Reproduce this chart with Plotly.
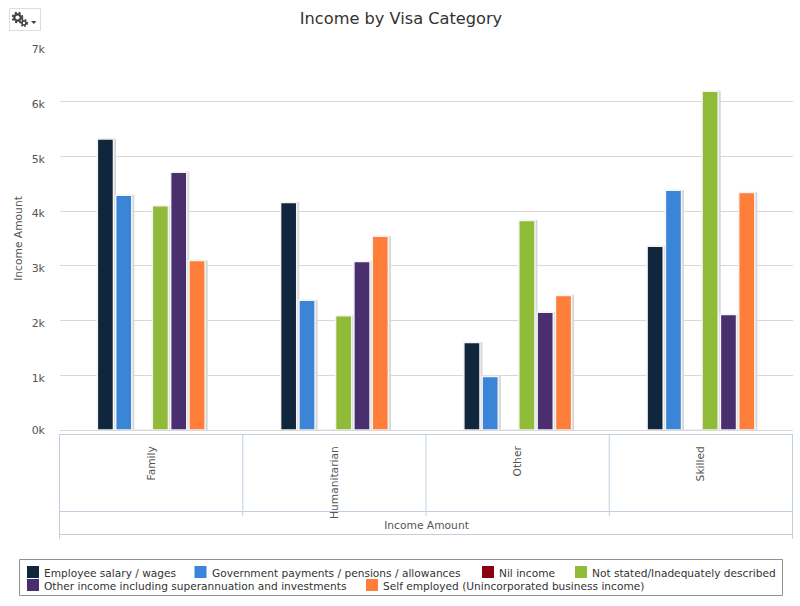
import plotly.graph_objects as go

categories = ["Family", "Humanitarian", "Other", "Skilled"]
series_names = ["Employee salary / wages", "Government payments / pensions / allowances", "Nil income",
                "Not stated/Inadequately described", "Other income including superannuation and investments",
                "Self employed (Unincorporated business income)"]
employee = [5320, 4160, 1600, 3360]
government = [4290, 2370, 980, 4380]
nil_income = [0, 0, 0, 0]
not_stated = [4100, 2090, 3830, 6190]
other_income = [4710, 3080, 2150, 2110]
self_employed = [3100, 3540, 2460, 4340]
series_values = [employee, government, nil_income, not_stated, other_income, self_employed]
colors = ["#10263c", "#3a85d8", "#8b0011", "#90bb38", "#4a2f6f", "#ff7e3a"]
y_ticks = [0, 1000, 2000, 3000, 4000, 5000, 6000, 7000]
y_labels = ["0k", "1k", "2k", "3k", "4k", "5k", "6k", "7k"]
legend_slots = [(27, 566), (194.5, 566), (482, 566), (575, 566), (27, 579), (366, 579)]

FONT = "DejaVu Sans"
TXT = "#555555"
LINE = "#c0d0e0"
ICON = "#444444"
W, H = 800, 606
L, R, T, B = 60, 793, 47, 430
pw, ph = R - L, B - T
px = lambda x: (x - L) / pw
py = lambda y: (B - y) / ph
cat_px = pw / 4
nudge = 0.4 / cat_px
shift = 2 / cat_px
label_shift = 2.5 * 7000 / ph
label_ticks = [max(v, label_shift) for v in y_ticks]

fig = go.Figure()
for name, vals in zip(series_names, series_values):
    fig.add_bar(x=categories, y=vals, name=name, showlegend=False, hoverinfo="skip",
                marker=dict(color="#d6d6d6", line=dict(color="#d6d6d6", width=1)), xaxis="x", yaxis="y")
for name, vals, c in zip(series_names, series_values, colors):
    fig.add_bar(x=categories, y=vals, name=name, showlegend=False, marker=dict(color=c, line=dict(color="#f4f4f4", width=1.5)),
                xaxis="x2", yaxis="y")
fig.add_scatter(x=[None], y=[None], xaxis="x2", yaxis="y2", showlegend=False, hoverinfo="skip")

shapes = []
def line(x0, y0, x1, y1):
    shapes.append(dict(type="line", xref="paper", yref="paper", x0=px(x0), y0=py(y0), x1=px(x1), y1=py(y1),
                       line=dict(color=LINE, width=1)))
def circle(cx, cy, r, width, dash="solid", fill="rgba(0,0,0,0)"):
    shapes.append(dict(type="circle", xref="paper", yref="paper", x0=px(cx - r), x1=px(cx + r), y0=py(cy - r), y1=py(cy + r),
                       line=dict(color=ICON, width=width, dash=dash), fillcolor=fill))

line(59.5, 434.5, 793, 434.5)
line(59.5, 511.5, 793, 511.5)
line(59.5, 534.5, 793, 534.5)
line(59.5, 434, 59.5, 539)
line(792.5, 434, 792.5, 539)
for xx in (242.75, 426, 609.25):
    line(xx, 434, xx, 516)
shapes.append(dict(type="rect", xref="paper", yref="paper", x0=px(9.5), x1=px(40.5), y0=py(8.5), y1=py(30.5),
                   line=dict(color="#dddddd", width=1), fillcolor="white"))
shapes.append(dict(type="rect", xref="paper", yref="paper", x0=px(19.5), x1=px(782.5), y0=py(559.5), y1=py(595.5),
                   line=dict(color="#909090", width=1), fillcolor="white"))
circle(17.5, 17.5, 4.6, 2.4, "2px,1.7px")
circle(17.5, 17.5, 3.2, 2.2, "solid", "white")
circle(24, 23, 3.0, 2.0, "1.5px,1.4px")
circle(24, 23, 2.0, 1.6, "solid", "white")
shapes.append(dict(type="path", xref="paper", yref="paper", line=dict(width=0), fillcolor=ICON,
                   path=f"M {px(31)} {py(21)} L {px(36.5)} {py(21)} L {px(33.75)} {py(24)} Z"))

def note(text, x, y, size, color="#444", xanchor="center"):
    return dict(text=text, x=px(x), y=py(y), xref="paper", yref="paper", showarrow=False, xanchor=xanchor,
                yanchor="middle", borderpad=0, font=dict(size=size, color=color, family=FONT))

ann = []
for name, c, (sx, sy) in zip(series_names, colors, legend_slots):
    shapes.append(dict(type="rect", xref="paper", yref="paper", x0=px(sx), x1=px(sx + 12), y0=py(sy), y1=py(sy + 12),
                       line=dict(width=0), fillcolor=c))
    ann.append(note(name, sx + 16, sy + 6.5, 10.6, "#333333", "left"))

fig.update_layout(
    width=W, height=H, autosize=False, paper_bgcolor="white", plot_bgcolor="white",
    margin=dict(l=L, r=W - R, t=T, b=H - B, autoexpand=False),
    barmode="group", bargap=0.4, bargroupgap=0.12,
    font=dict(family=FONT, size=11, color=TXT),
    title=dict(text="Income by Visa Category", x=401 / W, xanchor="center", y=1 - 18 / H, yanchor="middle",
               font=dict(size=16.2, color="#333333", family=FONT)),
    xaxis=dict(type="category", categoryorder="array", categoryarray=categories,
               range=[-0.5 + nudge - shift, 3.5 + nudge - shift],
               showgrid=False, zeroline=False, showline=False, ticks="", showticklabels=False),
    xaxis2=dict(type="category", categoryorder="array", categoryarray=categories, range=[-0.5 + nudge, 3.5 + nudge], overlaying="x",
                showgrid=False, zeroline=False, showline=False, ticks="", tickangle=-90, ticklabelstandoff=13,
                side="bottom", anchor="y", tickfont=dict(size=10.7, color=TXT, family=FONT),
                title=dict(text="Income Amount", standoff=3, font=dict(size=10.7, color=TXT, family=FONT))),
    yaxis=dict(range=[0, 7000], tickmode="array", tickvals=y_ticks, showticklabels=False, showgrid=True,
               gridcolor="#d8d8d8", gridwidth=1, zeroline=True, zerolinecolor="#d8d8d8", zerolinewidth=1,
               showline=False, ticks=""),
    yaxis2=dict(range=[label_shift, 7000 + label_shift], overlaying="y", side="left", anchor="x", tickmode="array",
                tickvals=label_ticks, ticktext=y_labels, showgrid=False, zeroline=False, showline=False, ticks="",
                ticklabelstandoff=14, tickfont=dict(size=11, color=TXT, family=FONT),
                title=dict(text="Income Amount", standoff=6, font=dict(size=10.7, color=TXT, family=FONT))),
    shapes=shapes, annotations=ann, showlegend=False,
)
fig.write_html("out.html", config={"displayModeBar": False}, post_script="document.body.style.margin='0';")
